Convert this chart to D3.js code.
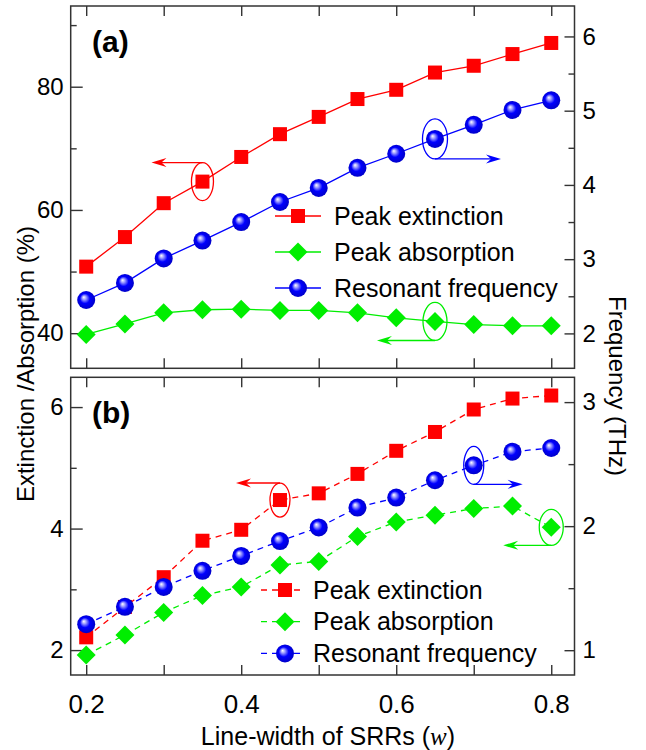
<!DOCTYPE html>
<html>
<head>
<meta charset="utf-8">
<script src="https://cdn.jsdelivr.net/npm/d3@7"></script>
<style>
  body { margin: 0; background: #fff; }
  svg { display: block; font-family: Arial, "Liberation Sans", sans-serif; }
</style>
</head>
<body>
<svg id="chart" width="646" height="750"></svg>
<script>
// line-width of the SRRs
let widths = [0.2, 0.25, 0.3, 0.35, 0.4, 0.45, 0.5, 0.55, 0.6, 0.65, 0.7, 0.75, 0.8]

// panel (a)
let extA  = [50.8, 55.6, 61.1, 64.6, 68.6, 72.3, 75.1, 78.0, 79.5, 82.3, 83.4, 85.3, 87.1]
let absA  = [39.8, 41.5, 43.3, 43.8, 43.9, 43.7, 43.7, 43.3, 42.5, 41.9, 41.4, 41.2, 41.2]
let freqA = [2.45, 2.68, 3.01, 3.25, 3.50, 3.77, 3.96, 4.23, 4.42, 4.62, 4.81, 5.01, 5.14]

// panel (b)
let extB  = [2.21, 2.71, 3.20, 3.80, 3.98, 4.47, 4.58, 4.90, 5.28, 5.59, 5.96, 6.14, 6.19]
let absB  = [1.92, 2.25, 2.62, 2.90, 3.04, 3.40, 3.46, 3.87, 4.11, 4.22, 4.33, 4.37, 4.02]
let freqB = [1.21, 1.35, 1.51, 1.64, 1.76, 1.88, 1.99, 2.15, 2.23, 2.37, 2.49, 2.60, 2.63]

let legendNames = ["Peak extinction", "Peak absorption", "Resonant frequency"]
let xTicks = [0.2, 0.3, 0.4, 0.5, 0.6, 0.7, 0.8]
let xLabelled = [0.2, 0.4, 0.6, 0.8]

let svg = d3.select("#chart")
let red = "#ff0000", green = "#00ee00", blue = "#0000ff", frameCol = "#333"
let left = 70.7, right = 574.5

let x = d3.scaleLinear().domain([0.18, 0.83]).range([left, right])

// sphere gradient for the frequency markers
let grad = svg.append("defs").append("radialGradient")
    .attr("id", "sphere").attr("cx", "50%").attr("cy", "50%").attr("r", "55%")
    .attr("fx", "36%").attr("fy", "34%")
grad.append("stop").attr("offset", "0%").attr("stop-color", "#ffffff")
grad.append("stop").attr("offset", "20%").attr("stop-color", "#a0a0ff")
grad.append("stop").attr("offset", "50%").attr("stop-color", "#0000ff")
grad.append("stop").attr("offset", "100%").attr("stop-color", "#0000c0")

let drawMarker = (g, type, cx, cy) => {
    if (type == "square") {
        g.append("rect").attr("x", cx - 7).attr("y", cy - 7).attr("width", 14).attr("height", 14).attr("fill", red)
    } else if (type == "diamond") {
        let h = 9.5
        g.append("path").attr("d", `M${cx},${cy - h}L${cx + h},${cy}L${cx},${cy + h}L${cx - h},${cy}Z`).attr("fill", green)
    } else {
        g.append("circle").attr("cx", cx).attr("cy", cy).attr("r", 9).attr("fill", "url(#sphere)")
    }
}

let drawArrow = (g, x0, y0, len, dir, color) => {
    let tip = x0 + dir * len
    g.append("line").attr("x1", x0).attr("y1", y0).attr("x2", tip - dir * 8).attr("y2", y0)
        .attr("stroke", color).attr("stroke-width", 1.4)
    g.append("path")
        .attr("d", `M${tip},${y0}L${tip - dir * 15},${y0 - 4.5}L${tip - dir * 10},${y0}L${tip - dir * 15},${y0 + 4.5}Z`)
        .attr("fill", color)
}

let drawPanel = (cfg) => {
    let g = svg.append("g")
    let yL = d3.scaleLinear().domain(cfg.leftDomain).range([cfg.bottom, cfg.top])
    let yR = d3.scaleLinear().domain(cfg.rightDomain).range([cfg.bottom, cfg.top])

    // frame
    g.append("rect").attr("x", left).attr("y", cfg.top).attr("width", right - left).attr("height", cfg.bottom - cfg.top)
        .attr("fill", "none").attr("stroke", frameCol).attr("stroke-width", 1.5)

    let styleAxis = (a, size) => {
        a.select(".domain").remove()
        a.selectAll(".tick line").attr("stroke", frameCol).attr("stroke-width", 1.4)
        a.selectAll(".tick text").attr("fill", "#000").style("font-size", size + "px").style("font-family", "Arial, 'Liberation Sans', sans-serif")
    }

    // x ticks top and bottom
    let xb = g.append("g").attr("transform", `translate(0,${cfg.bottom})`)
        .call(d3.axisBottom(x).tickValues(xTicks).tickSize(-10).tickPadding(20)
            .tickFormat(d => cfg.xLabels && xLabelled.some(v => Math.abs(v - d) < 1e-9) ? d3.format(".1f")(d) : ""))
    styleAxis(xb, 26)
    let xt = g.append("g").attr("transform", `translate(0,${cfg.top})`)
        .call(d3.axisTop(x).tickValues(xTicks).tickSize(-10).tickFormat(""))
    styleAxis(xt, 26)

    // left axis
    let la = g.append("g").attr("transform", `translate(${left},0)`)
        .call(d3.axisLeft(yL).tickValues(cfg.leftMajor).tickSize(-12).tickPadding(7).tickFormat(d3.format("d")))
    styleAxis(la, 24)
    let lm = g.append("g").attr("transform", `translate(${left},0)`)
        .call(d3.axisLeft(yL).tickValues(cfg.leftMinor).tickSize(-6).tickFormat(""))
    styleAxis(lm, 24)

    // right axis
    let ra = g.append("g").attr("transform", `translate(${right},0)`)
        .call(d3.axisRight(yR).tickValues(cfg.rightMajor).tickSize(-10).tickPadding(8).tickFormat(d3.format("d")))
    styleAxis(ra, 24)
    let rm = g.append("g").attr("transform", `translate(${right},0)`)
        .call(d3.axisRight(yR).tickValues(cfg.rightMinor).tickSize(-6).tickFormat(""))
    styleAxis(rm, 24)

    let series = [
        {vals: cfg.ext, scale: yL, color: red, type: "square"},
        {vals: cfg.abs, scale: yL, color: green, type: "diamond"},
        {vals: cfg.freq, scale: yR, color: blue, type: "sphere"}
    ]

    for (let s of series) {
        let line = d3.line().x((d, i) => x(widths[i])).y(d => s.scale(d))
        g.append("path").attr("d", line(s.vals)).attr("fill", "none")
            .attr("stroke", s.color).attr("stroke-width", 1.3)
            .attr("stroke-dasharray", cfg.dash ? "6,5" : null)
    }
    for (let s of series) {
        s.vals.forEach((v, i) => drawMarker(g, s.type, x(widths[i]), s.scale(v)))
    }

    // annotation ellipses with arrows pointing to the axis
    for (let an of cfg.notes) {
        let s = series[an.series]
        let cx = x(widths[an.idx]), cy = s.scale(s.vals[an.idx])
        g.append("ellipse").attr("cx", cx).attr("cy", cy).attr("rx", an.rx).attr("ry", an.ry)
            .attr("fill", "none").attr("stroke", s.color).attr("stroke-width", 1.3)
        let ay = an.side == "top" ? cy - an.ry : cy + an.ry
        drawArrow(g, cx, ay, an.len, an.dir, s.color)
    }

    // legend
    series.forEach((s, i) => {
        let ly = cfg.legend.y + i * cfg.legend.dy
        g.append("line").attr("x1", cfg.legend.x0).attr("x2", cfg.legend.x1).attr("y1", ly).attr("y2", ly)
            .attr("stroke", s.color).attr("stroke-width", 1.3).attr("stroke-dasharray", cfg.dash ? "6,5" : null)
        drawMarker(g, s.type, cfg.legend.mx, ly)
        g.append("text").attr("x", cfg.legend.tx).attr("y", ly).attr("dy", "0.35em")
            .style("font-size", "25px").text(legendNames[i])
    })

    g.append("text").attr("x", 92).attr("y", cfg.top + 46)
        .style("font-size", "30px").style("font-weight", "bold").text(cfg.label)
}

drawPanel({
    top: 6, bottom: 368.3,
    leftDomain: [34.3, 93.1], rightDomain: [1.53, 6.41],
    leftMajor: [40, 60, 80], leftMinor: [50, 70, 90],
    rightMajor: [2, 3, 4, 5, 6], rightMinor: [2.5, 3.5, 4.5, 5.5],
    ext: extA, abs: absA, freq: freqA, dash: false, xLabels: false, label: "(a)",
    notes: [
        {series: 0, idx: 3, rx: 11, ry: 19, side: "top", dir: -1, len: 51},
        {series: 2, idx: 9, rx: 12.5, ry: 20, side: "bottom", dir: 1, len: 66},
        {series: 1, idx: 9, rx: 12, ry: 19, side: "bottom", dir: -1, len: 58}
    ],
    legend: {y: 216, dy: 36, x0: 275, x1: 321, mx: 298, tx: 334}
})

drawPanel({
    top: 377.3, bottom: 675,
    leftDomain: [1.59, 6.49], rightDomain: [0.8, 3.2],
    leftMajor: [2, 4, 6], leftMinor: [3, 5],
    rightMajor: [1, 2, 3], rightMinor: [1.5, 2.5],
    ext: extB, abs: absB, freq: freqB, dash: true, xLabels: true, label: "(b)",
    notes: [
        {series: 0, idx: 5, rx: 10, ry: 17, side: "top", dir: -1, len: 44},
        {series: 2, idx: 10, rx: 10, ry: 19, side: "bottom", dir: 1, len: 49},
        {series: 1, idx: 12, rx: 12, ry: 18, side: "bottom", dir: -1, len: 48}
    ],
    legend: {y: 590, dy: 31.7, x0: 261, x1: 303, mx: 285, tx: 313}
})

// axis titles
svg.append("text").attr("transform", "translate(34,364) rotate(-90)").attr("text-anchor", "middle")
    .style("font-size", "24px").text("Extinction  /Absorption (%)")
svg.append("text").attr("transform", "translate(609,386) rotate(90)").attr("text-anchor", "middle")
    .style("font-size", "24px").text("Frequency (THz)")
let xl = svg.append("text").attr("x", 328).attr("y", 745).attr("text-anchor", "middle").style("font-size", "25px")
xl.append("tspan").text("Line-width of SRRs (")
xl.append("tspan").style("font-family", "'Liberation Serif', 'DejaVu Serif', serif").style("font-style", "italic").text("w")
xl.append("tspan").text(")")
</script>
</body>
</html>
